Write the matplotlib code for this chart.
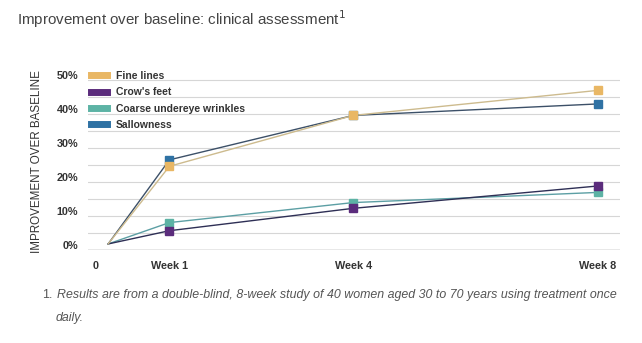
import matplotlib
matplotlib.use("Agg")
import matplotlib.pyplot as plt
import matplotlib.transforms as mtransforms
from matplotlib.lines import Line2D

plt.rcParams["font.family"] = ["Liberation Sans", "DejaVu Sans"]

# ---------------- data ----------------
weeks = [0, 1, 4, 8]
week_labels = ["0", "Week 1", "Week 4", "Week 8"]
series_names = ["Fine lines", "Crow's feet", "Coarse undereye wrinkles", "Sallowness"]
fine_lines = [1.7, 24.6, 39.6, 47.0]
crows_feet = [1.7, 5.6, 12.2, 18.8]
coarse_undereye = [1.7, 8.0, 13.9, 16.9]
sallowness = [1.7, 26.5, 39.6, 43.0]
y_ticks = [0, 10, 20, 30, 40, 50]

marker_colors = ["#E9B764", "#5B2C7C", "#5DB3A5", "#2F72A4"]
line_colors = ["#CDBB8E", "#2E2F55", "#5C9FA4", "#3C5068"]

fig = plt.figure(figsize=(6.42, 3.43), dpi=100)
ax = fig.add_axes([0.137, 0.272, 0.829, 0.514])

# back to front: the orange squares end up on top
order = [3, 2, 1, 0]
values = [fine_lines, crows_feet, coarse_undereye, sallowness]
for k, i in enumerate(order):
    ax.plot(weeks, values[i], color=line_colors[i], lw=1.0, zorder=3)
    ax.plot(weeks[1:], values[i][1:], ls="none", marker="s", ms=6.4,
            color=marker_colors[i], zorder=4 + k * 0.1)

ax.set_xlim(-0.33, 8.36)
ax.set_ylim(0, 52)

# horizontal guides every 5%
for y in range(5, 55, 5):
    ax.axhline(y, color="#D6D6D6", lw=0.8, zorder=1)
ax.axhline(0, color="#8A8A8A", lw=1.0, zorder=2)

for s in ax.spines.values():
    s.set_visible(False)

ax.set_yticks(y_ticks)
ax.set_yticklabels([f"{v}%" for v in y_ticks])
ax.set_xticks([-0.2, 1, 4, 8])
ax.set_xticklabels(week_labels)
ax.tick_params(length=0, labelsize=7.8, colors="#333333")
ax.tick_params(axis="y", pad=7)
ax.tick_params(axis="x", pad=8)
lift = mtransforms.ScaledTranslation(0, 3.5 / 72, fig.dpi_scale_trans)
for lab in ax.get_yticklabels():
    lab.set_fontweight("bold")
    lab.set_transform(lab.get_transform() + lift)
for lab in ax.get_xticklabels():
    lab.set_fontweight("bold")

ax.set_ylabel("IMPROVEMENT OVER BASELINE", fontsize=8.4, color="#333333", labelpad=10)

handles = [Line2D([0], [0], color=c, lw=5) for c in marker_colors]
leg = ax.legend(handles, series_names, loc="upper left", bbox_to_anchor=(0.005, 1.015),
                frameon=False, handlelength=1.6, handletextpad=0.8, labelspacing=0.62,
                borderpad=0, borderaxespad=0, prop={"size": 7.5, "weight": "bold"})
for t in leg.get_texts():
    t.set_color("#333333")

fig.text(0.027, 0.945, "Improvement over baseline: clinical assessment$^{1}$",
         fontsize=10.9, color="#444444", va="center")

fig.text(0.066, 0.140, "1.", fontsize=8.9, color="#555555", va="center")
fig.text(0.089, 0.140,
         "Results are from a double-blind, 8-week study of 40 women aged 30 to 70 years using treatment once",
         fontsize=8.9, style="italic", color="#555555", va="center")
fig.text(0.087, 0.072, "daily.", fontsize=8.9, style="italic", color="#555555", va="center")

fig.savefig("out.png", dpi=100, facecolor="white")
